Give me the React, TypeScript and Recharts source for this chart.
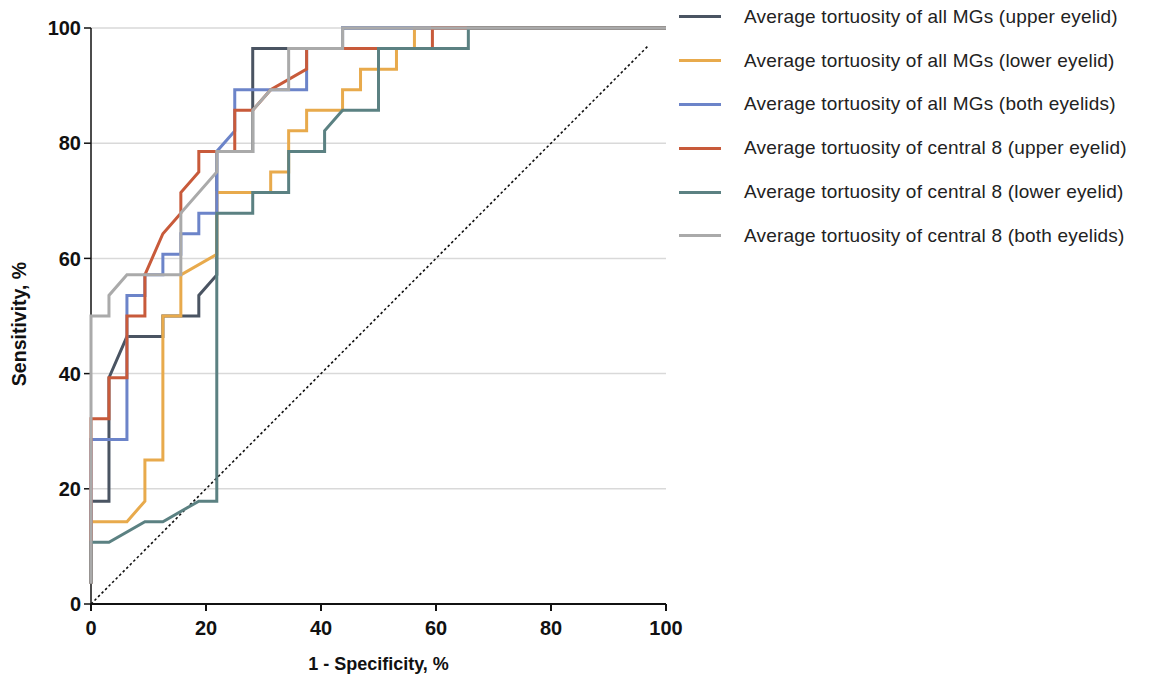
import { LineChart, Line, XAxis, YAxis, CartesianGrid, Legend } from "recharts";

const FONT = '"Liberation Sans", Arial, Helvetica, sans-serif';

const axisTicks = [0, 20, 40, 60, 80, 100];

// reference diagonal (chance line)
const chanceLine: [number, number][] = [[0, 0], [96.875, 96.875]];

// [1 - specificity %, sensitivity %]
const allUpper: [number, number][] = [
  [0, 3.57], [0, 17.86], [3.125, 17.86], [3.125, 39.29], [6.25, 46.43], [12.5, 46.43],
  [12.5, 50], [18.75, 50], [18.75, 53.57], [21.875, 57.14], [21.875, 78.57], [28.125, 78.57],
  [28.125, 96.43], [43.75, 96.43], [43.75, 100], [100, 100],
];
const allLower: [number, number][] = [
  [0, 3.57], [0, 14.29], [6.25, 14.29], [9.375, 17.86], [9.375, 25], [12.5, 25], [12.5, 50],
  [15.625, 50], [15.625, 57.14], [21.875, 60.71], [21.875, 71.43], [31.25, 71.43], [31.25, 75],
  [34.375, 75], [34.375, 82.14], [37.5, 82.14], [37.5, 85.71], [43.75, 85.71], [43.75, 89.29],
  [46.875, 89.29], [46.875, 92.86], [53.125, 92.86], [53.125, 96.43], [56.25, 96.43],
  [56.25, 100], [100, 100],
];
const allBoth: [number, number][] = [
  [0, 3.57], [0, 28.57], [6.25, 28.57], [6.25, 53.57], [9.375, 53.57], [9.375, 57.14],
  [12.5, 57.14], [12.5, 60.71], [15.625, 60.71], [15.625, 64.29], [18.75, 64.29],
  [18.75, 67.86], [21.875, 67.86], [21.875, 78.57], [25, 82.14], [25, 89.29], [37.5, 89.29],
  [37.5, 96.43], [43.75, 96.43], [43.75, 100], [100, 100],
];
const centralUpper: [number, number][] = [
  [0, 3.57], [0, 32.14], [3.125, 32.14], [3.125, 39.29], [6.25, 39.29], [6.25, 50],
  [9.375, 50], [9.375, 57.14], [12.5, 64.29], [15.625, 67.86], [15.625, 71.43], [18.75, 75],
  [18.75, 78.57], [25, 78.57], [25, 85.71], [28.125, 85.71], [31.25, 89.29], [37.5, 92.86],
  [37.5, 96.43], [59.375, 96.43], [59.375, 100], [100, 100],
];
const centralLower: [number, number][] = [
  [0, 3.57], [0, 10.71], [3.125, 10.71], [9.375, 14.29], [12.5, 14.29], [18.75, 17.86],
  [21.875, 17.86], [21.875, 67.86], [28.125, 67.86], [28.125, 71.43], [34.375, 71.43],
  [34.375, 78.57], [40.625, 78.57], [40.625, 82.14], [43.75, 85.71], [50, 85.71], [50, 96.43],
  [65.625, 96.43], [65.625, 100], [100, 100],
];
const centralBoth: [number, number][] = [
  [0, 3.57], [0, 50], [3.125, 50], [3.125, 53.57], [6.25, 57.14], [15.625, 57.14],
  [15.625, 67.86], [21.875, 75], [21.875, 78.57], [28.125, 78.57], [28.125, 85.71],
  [31.25, 89.29], [34.375, 89.29], [34.375, 96.43], [43.75, 96.43], [43.75, 100], [100, 100],
];

const seriesNames = [
  "Average tortuosity of all MGs (upper eyelid)",
  "Average tortuosity of all MGs (lower eyelid)",
  "Average tortuosity of all MGs (both eyelids)",
  "Average tortuosity of central 8 (upper eyelid)",
  "Average tortuosity of central 8 (lower eyelid)",
  "Average tortuosity of central 8 (both eyelids)",
];
const seriesPoints = [allUpper, allLower, allBoth, centralUpper, centralLower, centralBoth];
const seriesColors = ["#4a5462", "#e8aa4c", "#6c84c9", "#c85a3a", "#5b8182", "#aaaaaa"];

const toRows = (pts: [number, number][]) => pts.map(([x, y]) => ({ x, y }));

const LegendList = (props: any) => {
  const items = (props.payload ?? [])
    .filter((p: any) => seriesNames.includes(p.value))
    .sort((a: any, b: any) => seriesNames.indexOf(a.value) - seriesNames.indexOf(b.value));
  return (
    <div style={{ fontFamily: FONT }}>
      {items.map((p: any) => (
        <div key={p.value} style={{ display: "flex", alignItems: "center", height: 43.8 }}>
          <span style={{ display: "inline-block", width: 42, height: 3, background: p.color, marginRight: 23 }} />
          <span style={{ fontSize: 19, letterSpacing: 0.2, color: "#222", whiteSpace: "nowrap" }}>{p.value}</span>
        </div>
      ))}
    </div>
  );
};

export default function App() {
  return (
    <div style={{ position: "absolute", left: 0, top: 0, width: 1164, height: 680, background: "#fff" }}>
      <LineChart width={1164} height={680} margin={{ top: 28, right: 498, bottom: 0, left: 30 }}>
        <CartesianGrid vertical={false} stroke="#d9d9d9" strokeWidth={1.5} />
        <XAxis
          type="number"
          dataKey="x"
          domain={[0, 100]}
          ticks={axisTicks}
          interval={0}
          height={76}
          tickSize={7}
          tickMargin={10}
          stroke="#111"
          strokeWidth={2}
          tick={{ fill: "#111", fontSize: 20, fontWeight: "bold", fontFamily: FONT }}
          label={{
            value: "1 - Specificity, %",
            position: "insideBottom",
            offset: 10,
            fill: "#111",
            fontSize: 18,
            fontWeight: "bold",
            fontFamily: FONT,
          }}
        />
        <YAxis
          type="number"
          domain={[0, 100]}
          ticks={axisTicks}
          interval={0}
          width={61}
          tickSize={7}
          tickMargin={3}
          stroke="#111"
          strokeWidth={1.5}
          tick={{ fill: "#111", fontSize: 20, fontWeight: "bold", fontFamily: FONT }}
        />
        <Line
          data={toRows(chanceLine)}
          dataKey="y"
          type="linear"
          stroke="#111"
          strokeWidth={1.6}
          strokeDasharray="2.5 2.5"
          dot={false}
          activeDot={false}
          legendType="none"
          isAnimationActive={false}
        />
        {seriesNames.map((name, i) => (
          <Line
            key={name}
            name={name}
            data={toRows(seriesPoints[i])}
            dataKey="y"
            type="linear"
            stroke={seriesColors[i]}
            strokeWidth={3}
            dot={false}
            activeDot={false}
            legendType="line"
            zIndex={700}
            isAnimationActive={false}
          />
        ))}
        <Legend
          layout="vertical"
          align="center"
          verticalAlign="middle"
          wrapperStyle={{ left: 679, top: -5, width: 485 }}
          content={LegendList}
        />
      </LineChart>
      <div
        style={{
          position: "absolute",
          left: 19,
          top: 324,
          transform: "translate(-50%, -50%) rotate(-90deg)",
          fontFamily: FONT,
          fontSize: 19.5,
          fontWeight: "bold",
          color: "#111",
          whiteSpace: "nowrap",
        }}
      >
        Sensitivity, %
      </div>
    </div>
  );
}
